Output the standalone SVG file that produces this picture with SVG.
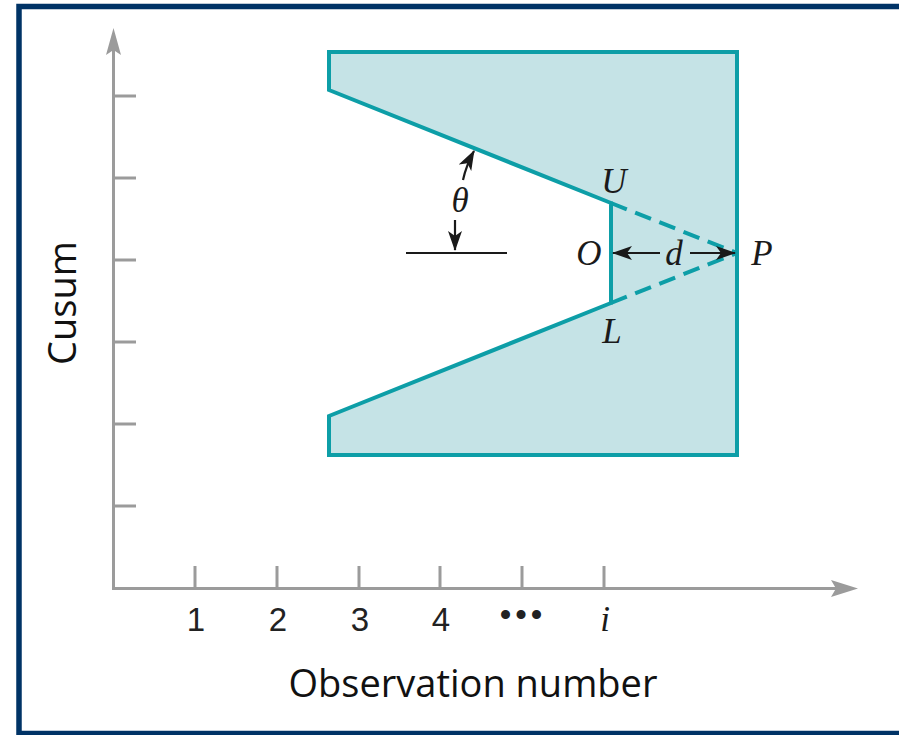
<svg xmlns="http://www.w3.org/2000/svg" width="899" height="735" viewBox="0 0 899 735">
<style>
.axis{stroke:#9b9b9b;stroke-width:3;fill:none}
.mask{stroke:#0d9ea7;stroke-width:4;fill:#c5e3e6;stroke-linejoin:miter}
.dash{stroke:#0d9ea7;stroke-width:4;fill:none;stroke-dasharray:17 9}
.blk{stroke:#1a1a1a;stroke-width:2.2;fill:none}
.num{font-family:"Liberation Sans",Arial,sans-serif;font-size:33px;fill:#222;text-anchor:middle}
.it{font-family:"Liberation Serif","Times New Roman",serif;font-style:italic;font-size:35px;fill:#1a1a1a;text-anchor:middle}
.lbl{font-family:"Open Sans","Noto Sans",sans-serif;font-size:38px;fill:#111;text-anchor:middle}
</style>
<defs>
<marker id="ba" viewBox="0 0 20 14" refX="19" refY="7" markerWidth="20" markerHeight="14" markerUnits="userSpaceOnUse" orient="auto">
<path d="M0,0 L20,7 L0,14 L5,7 z" fill="#1a1a1a"/>
</marker>
</defs>
<rect x="19" y="6.5" width="900" height="727" fill="#ffffff" stroke="#003366" stroke-width="5.5"/>
<g id="axes">
<line class="axis" x1="113.5" y1="589" x2="113.5" y2="48"/>
<path d="M113.5,28 L121,55 L113.5,50 L106,55 z" fill="#9b9b9b"/>
<line class="axis" x1="112" y1="588.5" x2="838" y2="588.5"/>
<path d="M858,588.5 L831,580 L836,588.5 L831,597 z" fill="#9b9b9b"/>
<g class="axis">
<line x1="113.5" y1="96" x2="136" y2="96"/>
<line x1="113.5" y1="178" x2="136" y2="178"/>
<line x1="113.5" y1="260" x2="136" y2="260"/>
<line x1="113.5" y1="342" x2="136" y2="342"/>
<line x1="113.5" y1="424" x2="136" y2="424"/>
<line x1="113.5" y1="506" x2="136" y2="506"/>
<line x1="195" y1="566" x2="195" y2="588"/>
<line x1="277" y1="566" x2="277" y2="588"/>
<line x1="359" y1="566" x2="359" y2="588"/>
<line x1="440" y1="566" x2="440" y2="588"/>
<line x1="522" y1="566" x2="522" y2="588"/>
<line x1="604" y1="566" x2="604" y2="588"/>
</g>
<text class="num" x="196" y="631">1</text>
<text class="num" x="278" y="631">2</text>
<text class="num" x="360" y="631">3</text>
<text class="num" x="441" y="631">4</text>
<text class="num" x="523" y="626" letter-spacing="4" font-size="26">•••</text>
<text class="it" x="605" y="631">i</text>
<text class="lbl" x="473" y="697">Observation number</text>
<text class="lbl" transform="translate(76,303) rotate(-90)">Cusum</text>
</g>
<g id="mask">
<path class="mask" d="M329,52 L737,52 L737,455 L329,455 L329,416 L611,303 L611,203 L329,90 Z"/>
</g>
<g id="connectors">
<line class="dash" x1="611" y1="203" x2="737" y2="253"/>
<line class="dash" x1="611" y1="303" x2="737" y2="253"/>
<line class="blk" x1="406" y1="253" x2="507" y2="253"/>
<path class="blk" d="M463,180 Q466,166 474,151" marker-end="url(#ba)"/>
<line class="blk" x1="455" y1="220" x2="455" y2="250" marker-end="url(#ba)"/>
<line class="blk" x1="660" y1="253" x2="613" y2="253" marker-end="url(#ba)"/>
<line class="blk" x1="690" y1="253" x2="735" y2="253" marker-end="url(#ba)"/>
</g>
<g id="labels">
<text class="it" x="460" y="212">θ</text>
<text class="it" x="614" y="193">U</text>
<text class="it" x="589" y="265">O</text>
<text class="it" x="674" y="265">d</text>
<text class="it" x="762" y="265">P</text>
<text class="it" x="612" y="343">L</text>
</g>
</svg>
